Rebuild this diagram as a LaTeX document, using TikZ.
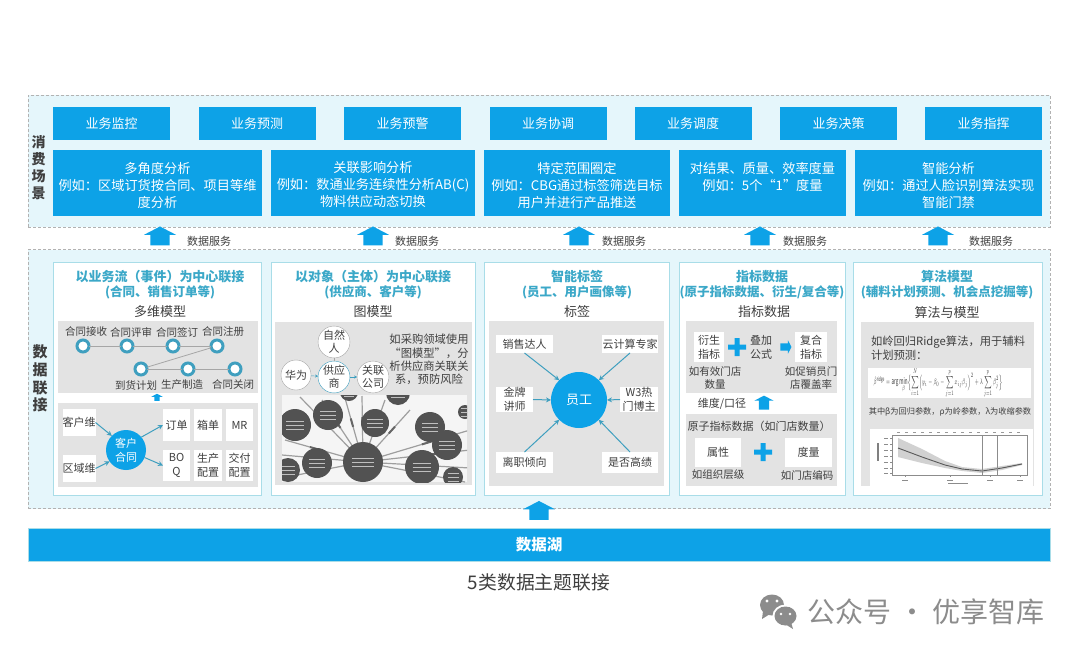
\documentclass[tikz,border=0pt]{standalone}
\usepackage{amsmath}
\usepackage{graphicx}
\usepackage{fontspec}
\setmainfont{Noto Sans CJK SC}
\usetikzlibrary{arrows.meta, shapes.arrows}
\definecolor{lakeblue}{HTML}{0DA2E7}
\definecolor{panelblue}{HTML}{E5F6FB}
\definecolor{cardline}{HTML}{A9DDE8}
\definecolor{titleteal}{HTML}{3BA8C8}
\definecolor{softgray}{HTML}{E3E3E3}
\definecolor{inktext}{HTML}{3F3F3F}
\definecolor{arrowteal}{HTML}{3F9FBF}
\newcommand{\fs}[1]{\fontsize{#1}{#1}\selectfont}
\tikzset{
  every node/.style={inner sep=0pt, outer sep=0pt, text=inktext},
  panel/.style={fill=panelblue, draw=black!30, densely dashed, line width=0.7pt},
  topbox/.style={fill=lakeblue, text=white, minimum width=117pt, minimum height=33pt, font=\fontsize{13}{15}\selectfont},
  midbox/.style={fill=lakeblue, minimum height=66pt},
  midtext/.style={text=white, align=center, font=\fontsize{13.2}{17}\selectfont},
  card/.style={fill=white, draw=cardline, line width=1pt, minimum height=233pt},
  cardtitle/.style={text=titleteal, align=center, font=\fontsize{13}{15.5}\selectfont\bfseries},
  cardhead/.style={font=\fontsize{13}{15}\selectfont},
  graybox/.style={fill=softgray},
  whitebox/.style={fill=white, align=center, font=\fontsize{11}{14}\selectfont},
  small/.style={align=center, font=\fontsize{10.5}{13}\selectfont},
  service/.style={font=\fontsize{11}{13}\selectfont},
  blockup/.style={single arrow, rotate=90, fill=lakeblue, inner xsep=0pt, inner ysep=9pt, minimum height=19pt, minimum width=32pt, single arrow head extend=6pt, single arrow tip angle=125},
  ring/.style={circle, draw=arrowteal, fill=white, line width=3pt, minimum size=12pt},
  ringline/.style={black!35, line width=0.8pt},
  bubble/.style={circle, draw=black!35, fill=white, minimum size=30pt, align=center, font=\fontsize{11}{13}\selectfont},
  pointer/.style={arrowteal, line width=1pt, -{Stealth[length=5pt,width=5pt]}},
  plusbar/.style={fill=lakeblue},
  graphdisc/.style={fill=black!68},
  graphray/.style={black!38, line width=1.2pt},
  graphtick/.style={black!25, line width=0.8pt},
}
\begin{document}
\begin{tikzpicture}[x=1pt,y=-1pt]
  \useasboundingbox (0,0) rectangle (1080,656);
  \fill[white] (0,0) rectangle (1080,656);

  % Consumption scenarios panel
  \node[panel, minimum width=1022pt, minimum height=132pt] (scenepanel) at (539,161) {};
  \node[align=center, font=\fontsize{14}{17}\selectfont\bfseries] (scenelabel) at (38.5,167.5) {消\\费\\场\\景};
  \node[topbox] (monitor) at (111.5,123.5) {业务监控};
  \node[topbox] (forecast) at (257,123.5) {业务预测};
  \node[topbox] (warning) at (402.5,123.5) {业务预警};
  \node[topbox] (coord) at (548,123.5) {业务协调};
  \node[topbox] (dispatch) at (693,123.5) {业务调度};
  \node[topbox] (decide) at (838.5,123.5) {业务决策};
  \node[topbox] (command) at (983.5,123.5) {业务指挥};

  \node[midbox, minimum width=209pt] (anglebox) at (157.5,183) {};
  \node[midtext] (angletext) at (157.5,185) {多角度分析\\例如：区域订货按合同、项目等维\\度分析};
  \node[midbox, minimum width=204pt] (linkbox) at (373,183) {};
  \node[midtext] (linktext) at (373,185) {关联影响分析\\例如：数通业务连续性分析AB(C)\\物料供应动态切换};
  \node[midbox, minimum width=186pt] (rangebox) at (577,183) {};
  \node[midtext] (rangetext) at (577,185) {特定范围圈定\\例如：CBG通过标签筛选目标\\用户并进行产品推送};
  \node[midbox, minimum width=167pt] (measurebox) at (762.5,183) {};
  \node[midtext] (measuretext) at (762.5,176.5) {对结果、质量、效率度量\\例如：5个“1”度量};
  \node[midbox, minimum width=187pt] (smartbox) at (948.5,183) {};
  \node[midtext] (smarttext) at (948.5,185) {智能分析\\例如：通过人脸识别算法实现\\智能门禁};

  % Data service arrows
  \node[blockup] (up1) at (160,238.5) {};
  \node[service] (svc1) at (209,241) {数据服务};
  \node[blockup] (up2) at (373,238.5) {};
  \node[service] (svc2) at (417,241) {数据服务};
  \node[blockup] (up3) at (579,238.5) {};
  \node[service] (svc3) at (624,241) {数据服务};
  \node[blockup] (up4) at (760,238.5) {};
  \node[service] (svc4) at (805,241) {数据服务};
  \node[blockup] (up5) at (938,238.5) {};
  \node[service] (svc5) at (991,241) {数据服务};

  % Data linking panel
  \node[panel, minimum width=1022pt, minimum height=259pt] (linkpanel) at (539,379) {};
  \node[align=center, font=\fontsize{15}{17.7}\selectfont\bfseries] (linklabel) at (40,378.5) {数\\据\\联\\接};

  % Card 1 - multidimensional model
  \node[card, minimum width=208pt] (flowcard) at (157,378.5) {};
  \node[cardtitle] (flowtitle) at (160,284.5) {以业务流（事件）为中心联接\\\fs{12.5}(合同、销售订单等)};
  \node[cardhead] (flowhead) at (160,312) {多维模型};
  \node[graybox, minimum width=200pt, minimum height=72pt] (flowgray) at (158,357) {};
  \node[small] (lb1) at (86,332) {合同接收};
  \node[small] (lb2) at (131,332) {合同评审};
  \node[small] (lb3) at (177,332) {合同签订};
  \node[small] (lb4) at (223,332) {合同注册};
  \node[ring] (ring1) at (83,346) {};
  \node[ring] (ring2) at (127,346) {};
  \node[ring] (ring3) at (173,346) {};
  \node[ring] (ring4) at (217,346) {};
  \node[ring] (ring5) at (141,369) {};
  \node[ring] (ring6) at (188,369) {};
  \node[ring] (ring7) at (235,369) {};
  \draw[ringline] (ring1) -- (ring2);
  \draw[ringline] (ring2) -- (ring3);
  \draw[ringline] (ring3) -- (ring4);
  \draw[ringline] (ring4) -- (ring5);
  \draw[ringline] (ring5) -- (ring6);
  \draw[ringline] (ring6) -- (ring7);
  \node[small] (lb5) at (136,385) {到货计划};
  \node[small] (lb6) at (182,385) {生产制造};
  \node[small] (lb7) at (233,385) {合同关闭};
  \node[blockup, inner ysep=2.5pt, minimum height=7pt, minimum width=11pt, single arrow head extend=3pt] (flowup) at (157,398) {};
  \node[graybox, minimum width=200pt, minimum height=84pt] (dimgray) at (158,445) {};
  \node[whitebox, minimum width=32pt, minimum height=27pt] (custdim) at (79,422.5) {客户维};
  \node[whitebox, minimum width=32pt, minimum height=27pt] (areadim) at (79,468.5) {区域维};
  \node[circle, fill=lakeblue, minimum size=40pt, text=white, align=center, font=\fontsize{11}{14}\selectfont] (contract) at (126,450) {客户\\合同};
  \node[whitebox, minimum width=27pt, minimum height=32pt] (order) at (176.5,425) {订单};
  \node[whitebox, minimum width=28pt, minimum height=32pt] (packing) at (208,425) {箱单};
  \node[whitebox, minimum width=27pt, minimum height=32pt] (mr) at (239.5,425) {MR};
  \node[whitebox, minimum width=27pt, minimum height=31pt] (boq) at (176.5,465.5) {BO\\Q};
  \node[whitebox, minimum width=28pt, minimum height=31pt] (prodcfg) at (208,465.5) {生产\\配置};
  \node[whitebox, minimum width=27pt, minimum height=31pt] (delivcfg) at (239.5,465.5) {交付\\配置};
  \draw[pointer] (custdim.east) -- (contract.135);
  \draw[pointer] (areadim.east) -- (contract.215);
  \draw[pointer] (contract.40) -- (order.west);
  \draw[pointer] (contract.-22) -- (boq.west);

  % Card 2 - graph model
  \node[card, minimum width=204pt] (objcard) at (373,378.5) {};
  \node[cardtitle] (objtitle) at (373,284.5) {以对象（主体）为中心联接\\\fs{12.5}(供应商、客户等)};
  \node[cardhead] (objhead) at (373,312) {图模型};
  \node[graybox, minimum width=197pt, minimum height=163pt] (objgray) at (373.5,403.5) {};
  \node[bubble] (natural) at (334,342) {自然\\人};
  \node[bubble, draw=arrowteal] (supplier) at (334,377) {供应\\商};
  \node[bubble] (huawei) at (296,375) {华为};
  \node[bubble] (related) at (373,377) {关联\\公司};
  \draw[black!35] (natural) -- (supplier);
  \draw[arrowteal, -{Stealth[length=3pt,width=3pt]}] (huawei) -- (supplier);
  \draw[arrowteal, -{Stealth[length=3pt,width=3pt]}] (supplier) -- (related);
  \node[align=center, font=\fontsize{11.3}{13.3}\selectfont] (objnote) at (429,359.5) {如采购领域使用\\“图模型”，分\\析供应商关联关\\系，预防风险};
  \node[fill=black!4, minimum width=185pt, minimum height=87pt] (graphimg) at (374.5,438.5) {};
  \begin{scope}
    \clip (graphimg.south west) rectangle (graphimg.north east);
    \foreach \ex/\ey in {300/397,322/400,345/398,362/396,385/400,410/410,470/430,470/450,470/468,465/482,285/440,282/455,282/478}
      {\draw[graphray] (363,462) -- (\ex,\ey);
       \draw[black!60, line width=2pt] ({363+0.55*(\ex-363)},{462+0.55*(\ey-462)}) -- ({363+0.68*(\ex-363)},{462+0.68*(\ey-462)});}
    \foreach \cx/\cy/\cr in {328/415/15,295/425/16,375/423/14,430/427/15,447/445/15,363/462/20,317/463/15,422/467/17,288/470/12,453/477/10,465/412/7,398/393/12,349/392/9}
      {\fill[graphdisc] (\cx,\cy) circle[radius=\cr];
       \foreach \dy in {-4,0,4}
         \draw[graphtick] (\cx-\cr*0.55,\cy+\dy) -- (\cx+\cr*0.55,\cy+\dy);}
  \end{scope}

  % Card 3 - tags
  \node[card, minimum width=185pt] (tagcard) at (576.5,378.5) {};
  \node[cardtitle] (tagtitle) at (577,284.5) {智能标签\\\fs{12.5}(员工、用户画像等)};
  \node[cardhead] (taghead) at (577,312) {标签};
  \node[graybox, minimum width=175pt, minimum height=165pt] (taggray) at (576.5,403.5) {};
  \node[circle, fill=lakeblue, minimum size=56pt, text=white, font=\fontsize{13}{15}\selectfont] (staff) at (579,400) {员工};
  \node[whitebox, minimum width=57pt, minimum height=18pt] (tagsale) at (524.5,344) {销售达人};
  \node[whitebox, minimum width=56pt, minimum height=18pt] (tagcloud) at (630,344) {云计算专家};
  \node[whitebox, minimum width=37pt, minimum height=25pt] (taggold) at (514.5,399.5) {金牌\\讲师};
  \node[whitebox, minimum width=38pt, minimum height=25pt] (tagblog) at (639,399.5) {W3热\\门博主};
  \node[whitebox, minimum width=57pt, minimum height=21pt] (tagleave) at (524.5,462.5) {离职倾向};
  \node[whitebox, minimum width=56pt, minimum height=21pt] (tagperf) at (630,462.5) {是否高绩};
  \draw[pointer] (tagsale.south) -- (staff.135);
  \draw[pointer] (tagcloud.south) -- (staff.45);
  \draw[pointer] (taggold.east) -- (staff.west);
  \draw[pointer] (tagblog.west) -- (staff.east);
  \draw[pointer] (tagleave.north) -- (staff.225);
  \draw[pointer] (tagperf.north) -- (staff.315);

  % Card 4 - indicator data
  \node[card, minimum width=166pt] (kpicard) at (762,378.5) {};
  \node[cardtitle] (kpititle) at (762,284.5) {指标数据\\\fs{12.5}(原子指标数据、衍生/复合等)};
  \node[cardhead] (kpihead) at (764,312) {指标数据};
  \node[graybox, minimum width=151pt, minimum height=72pt] (kpigray) at (761.5,357) {};
  \node[whitebox, minimum width=30pt, minimum height=30pt] (derived) at (709,347) {衍生\\指标};
  \fill[plusbar, shift={(737,347)}] (-9,-2.5) rectangle (9,2.5) (-2.5,-9) rectangle (2.5,9);
  \node[whitebox, fill=none] (formula) at (761,347) {叠加\\公式};
  \node[blockup, rotate=-90, inner ysep=3.5pt, minimum height=11pt, minimum width=13pt, single arrow head extend=3pt] (toright) at (785,347) {};
  \node[whitebox, minimum width=32pt, minimum height=30pt] (composite) at (811,347) {复合\\指标};
  \node[small] (storecnt) at (715,378.5) {如有效门店\\数量};
  \node[small] (storerate) at (811,378.5) {如促销员门\\店覆盖率};
  \node[small, font=\fontsize{11}{13}\selectfont] (dimword) at (722,404) {维度/口径};
  \node[blockup, inner ysep=5pt, minimum height=14pt, minimum width=19pt, single arrow head extend=4.5pt] (kpiup) at (764,404) {};
  \node[graybox, minimum width=151pt, minimum height=72pt] (atomgray) at (761.5,450) {};
  \node[small, font=\fontsize{11}{13}\selectfont] (atomhead) at (759,426) {原子指标数据（如门店数量）};
  \node[whitebox, minimum width=46pt, minimum height=29pt] (attr) at (718,452.5) {属性};
  \node[whitebox, minimum width=47pt, minimum height=29pt] (measure) at (808.5,452.5) {度量};
  \fill[plusbar, shift={(763,452)}] (-9,-2.5) rectangle (9,2.5) (-2.5,-9) rectangle (2.5,9);
  \node[small] (orglevel) at (718,475) {如组织层级};
  \node[small] (storecode) at (807,475) {如门店编码};

  % Card 5 - algorithm
  \node[card, minimum width=189pt] (algocard) at (947.5,378.5) {};
  \node[cardtitle] (algotitle) at (947,284.5) {算法模型\\\fs{12.5}(辅料计划预测、机会点挖掘等)};
  \node[cardhead] (algohead) at (947,313) {算法与模型};
  \node[graybox, minimum width=173pt, minimum height=164pt] (algogray) at (947.5,404) {};
  \node[anchor=west, align=left, font=\fontsize{11.3}{14}\selectfont] (ridgenote) at (871,348) {如岭回归Ridge算法，用于辅料\\计划预测：};
  \node[fill=white, minimum width=163pt, minimum height=30pt] (formulabox) at (949.5,383) {};
  \node[font=\fontsize{6.5}{8}\selectfont] (ridgeeq) at (938,383) {\scalebox{0.7}[1.35]{$\hat{\beta}^{\mathrm{ridge}}=\arg\min\limits_{\beta}\Bigl\{\displaystyle\sum_{i=1}^{N}\Bigl(y_i-\beta_0-\sum_{j=1}^{p}x_{ij}\beta_j\Bigr)^{2}+\lambda\sum_{j=1}^{p}\beta_j^{2}\Bigr\}$}};
  \node[font=\fontsize{8.2}{10}\selectfont] (ridgeparam) at (950,412) {其中β为回归参数，ρ为岭参数，λ为收缩参数};
  \node[fill=white, minimum width=163pt, minimum height=57pt] (chartbox) at (951.5,457.5) {};
  \fill[black!18] (898,438) -- (922,449) -- (945,461) -- (962,467) -- (982,469) -- (1002,466) -- (1022,463)
    -- (1022,465) -- (1002,470) -- (982,473) -- (962,471) -- (945,468) -- (922,463) -- (898,457) -- cycle;
  \draw[black!65, line width=0.9pt] (898,448) -- (922,457) -- (945,465) -- (962,469) -- (982,471) -- (1002,468) -- (1022,464);
  \draw[black!45, line width=0.5pt] (892,435) rectangle (1027,475);
  \draw[black!45, line width=0.5pt] (982,435) -- (982,475) (997,435) -- (997,475);
  \foreach \tx in {905,950,990,1020}
    \draw[black!45, line width=0.5pt] (\tx,475) -- (\tx,477) (\tx-3,480) -- (\tx+3,480);
  \foreach \ty in {438,444,450,456,462,468,473}
    \draw[black!45, line width=0.5pt] (892,\ty) -- (890,\ty) (884,\ty) -- (888,\ty);
  \foreach \tx in {897,905,913,921,929,937,945,953,961,969,977,985,993,1001,1009,1017}
    \draw[black!40, line width=0.6pt] (\tx,432) -- (\tx+3,432);
  \draw[black!50, line width=1.5pt] (878,443) -- (878,461);
  \draw[black!45, line width=0.8pt] (948,483) -- (968,483);

  % Data lake at the bottom
  \node[blockup] (lakeup) at (539,513) {};
  \node[fill=lakeblue, draw=cardline, line width=0.8pt, text=white, minimum width=1022pt, minimum height=33pt, font=\fontsize{15.5}{17}\selectfont\bfseries] (lake) at (539,544.5) {数据湖};
  \node[font=\fontsize{18.8}{21}\selectfont] (caption) at (539,582) {5类数据主题联接};

  % Watermark
  \fill[black!45] (772,605) ellipse[x radius=12, y radius=10.5];
  \fill[black!45] (763,611) -- (762,619) -- (770,614) -- cycle;
  \fill[white] (785.5,616) ellipse[x radius=13, y radius=11.5];
  \fill[black!45] (785.5,616) ellipse[x radius=11, y radius=9.5];
  \fill[black!45] (791,622) -- (793,629) -- (785,624) -- cycle;
  \fill[white] (767,601) circle[radius=1.6] (777,601) circle[radius=1.6] (781,614) circle[radius=1.4] (790,614) circle[radius=1.4];
  \node[text=black!45, font=\fontsize{28}{30}\selectfont] (wmark) at (926,612) {公众号 · 优享智库};
\end{tikzpicture}
\end{document}
